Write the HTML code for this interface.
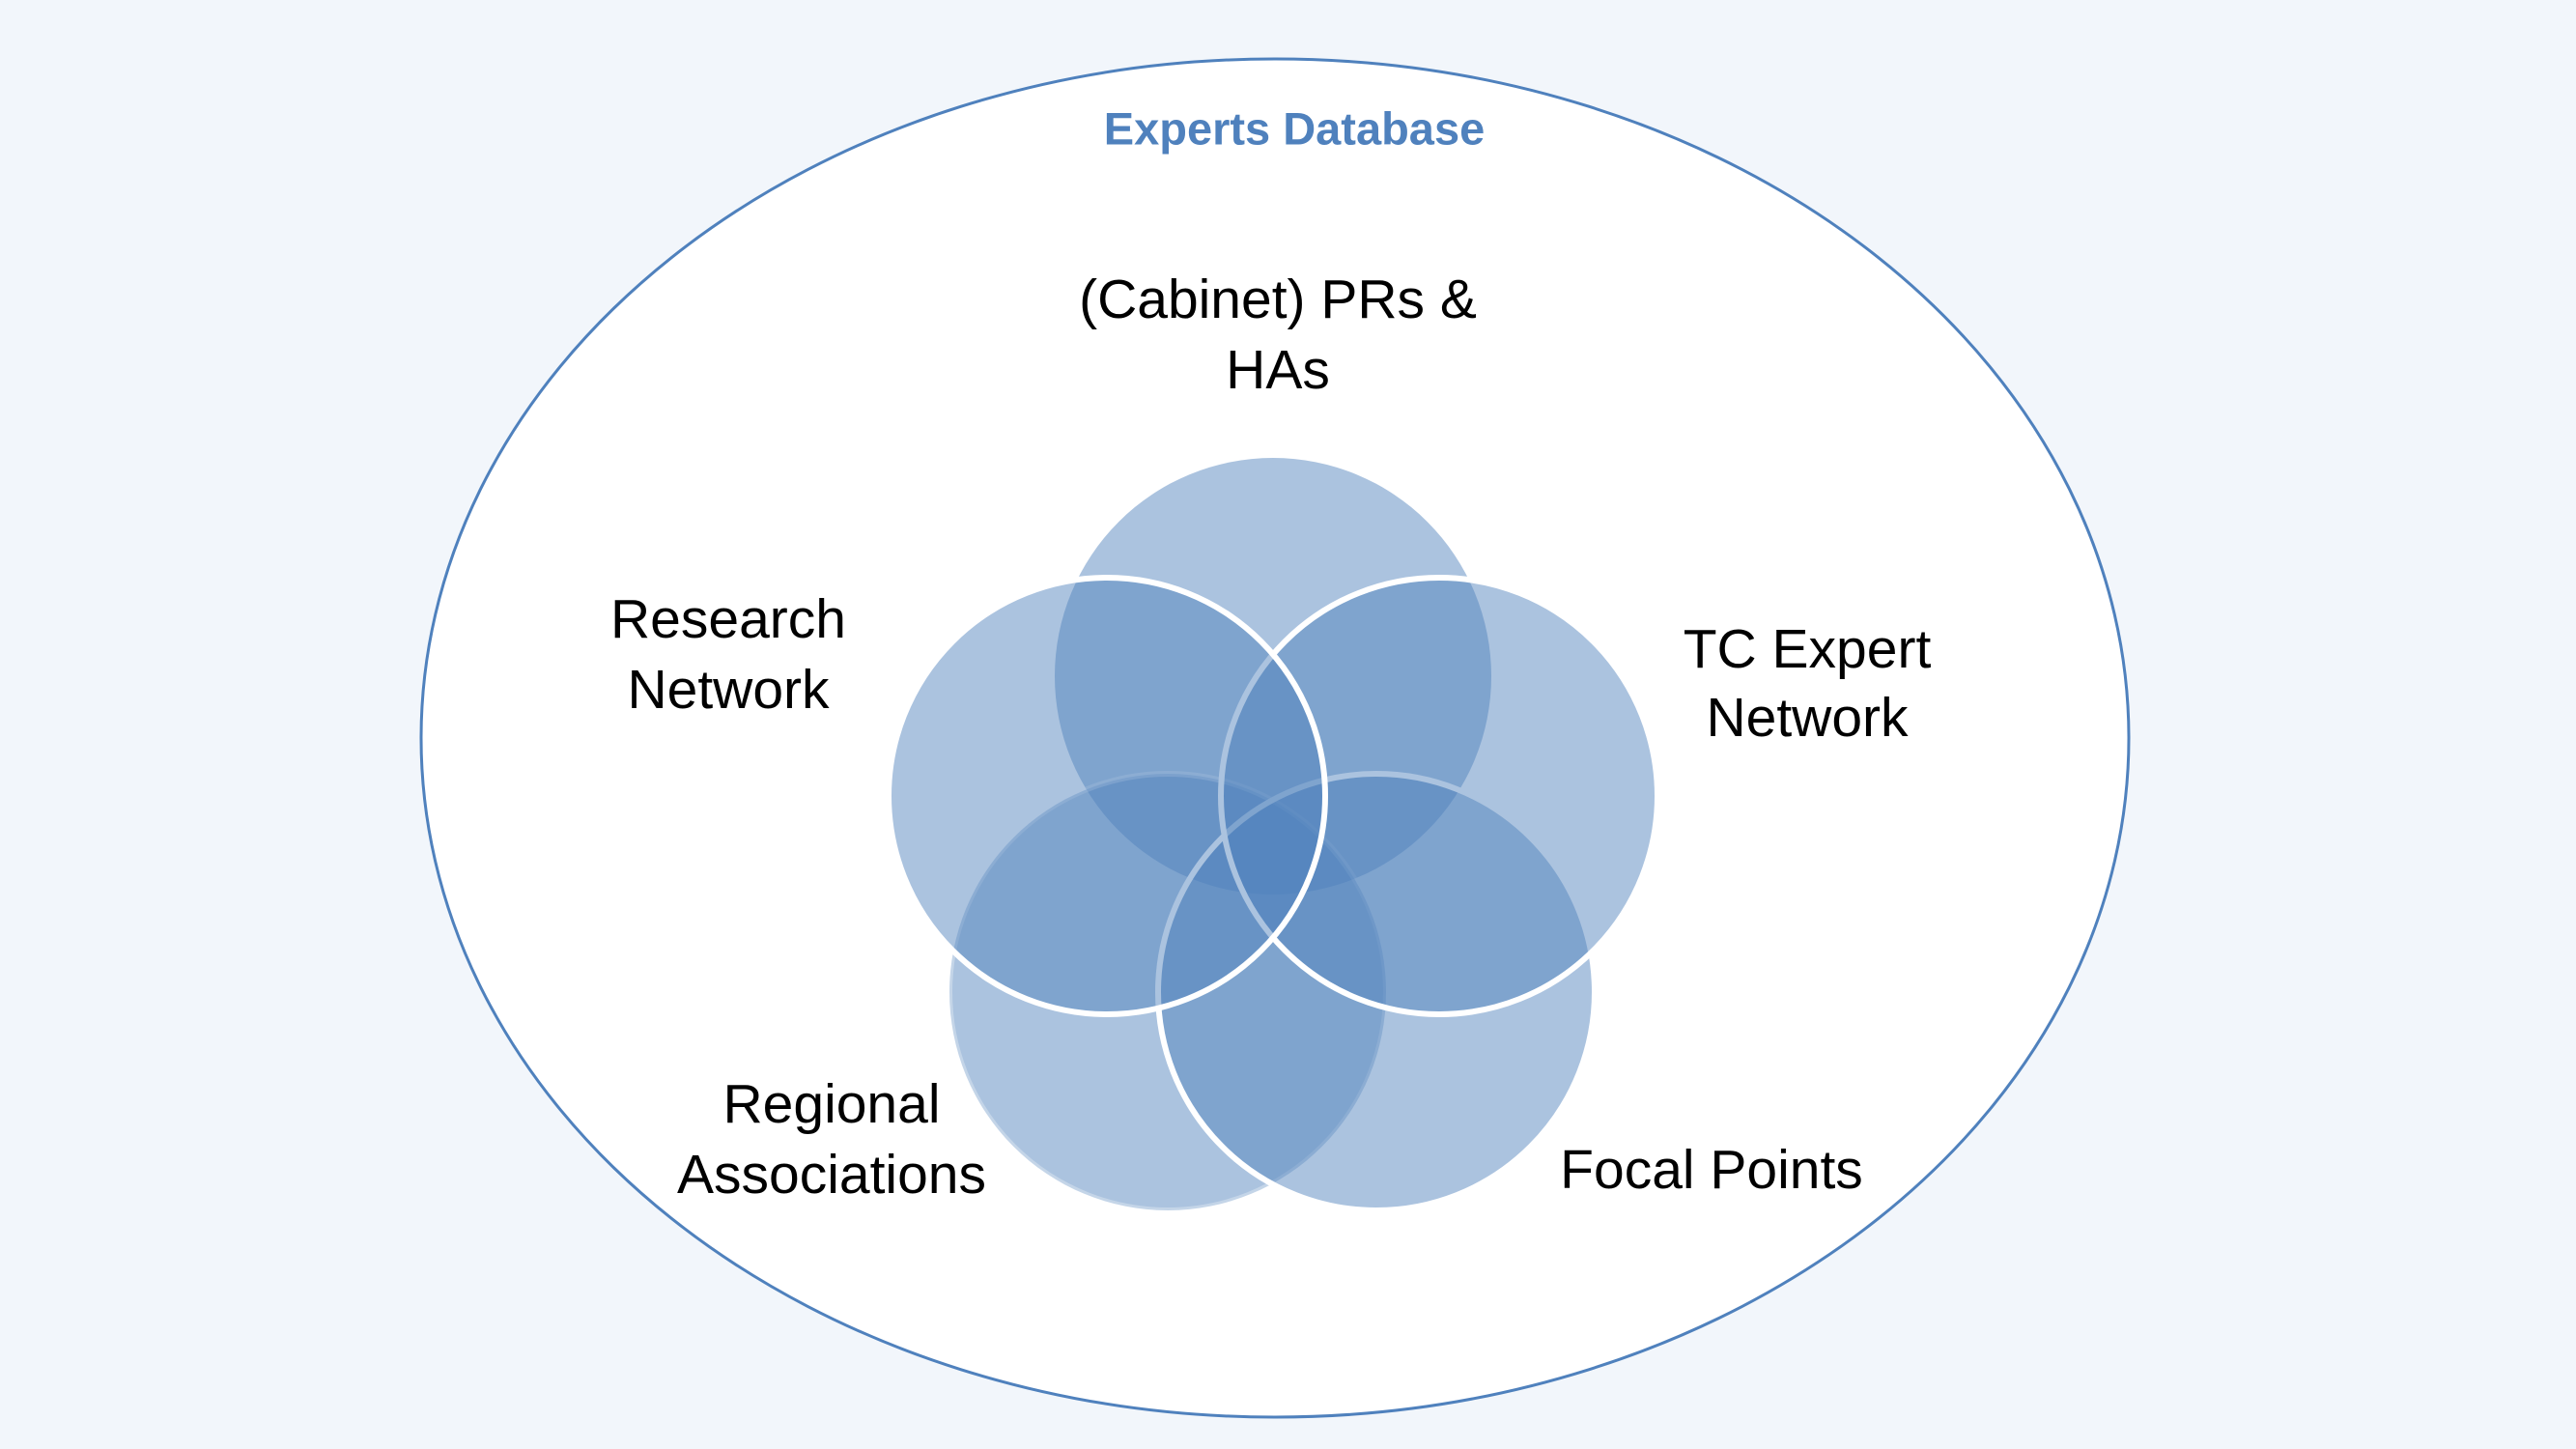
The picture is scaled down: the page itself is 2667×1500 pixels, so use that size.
<!DOCTYPE html>
<html><head><meta charset="utf-8"><style>
html,body{margin:0;padding:0;background:#F2F6FB;}
svg{display:block}
text{font-family:"Liberation Sans",sans-serif;}
</style></head><body>
<svg width="2667" height="1500" viewBox="0 0 2667 1500">
<rect width="2667" height="1500" fill="#F2F6FB"/>
<ellipse cx="1320" cy="764" rx="884" ry="703" fill="#fff" stroke="#4F81BD" stroke-width="3"/>
<text x="1340" y="133" font-size="47" font-weight="bold" fill="#4F81BD" text-anchor="middle" dominant-baseline="central">Experts Database</text>
<g fill="#4F81BD" fill-opacity="0.48">
<circle cx="1318" cy="700" r="226"/>
<circle cx="1209" cy="1027" r="226" stroke="#fff" stroke-opacity="0.3" stroke-width="6"/>
<circle cx="1425" cy="1027" r="226" stroke="#fff" stroke-width="6"/>
<circle cx="1490" cy="824" r="226" stroke="#fff" stroke-width="6"/>
<circle cx="1146" cy="824" r="226" stroke="#fff" stroke-width="6"/>
</g>
<g font-size="57" fill="#000" text-anchor="middle" dominant-baseline="central">
<text x="1323" y="310">(Cabinet) PRs &amp;</text>
<text x="1323" y="383">HAs</text>
<text x="754" y="641">Research</text>
<text x="754" y="714">Network</text>
<text x="1871" y="672">TC Expert</text>
<text x="1871" y="743">Network</text>
<text x="861" y="1143">Regional</text>
<text x="861" y="1216">Associations</text>
<text x="1772" y="1211">Focal Points</text>
</g>
</svg>
</body></html>
